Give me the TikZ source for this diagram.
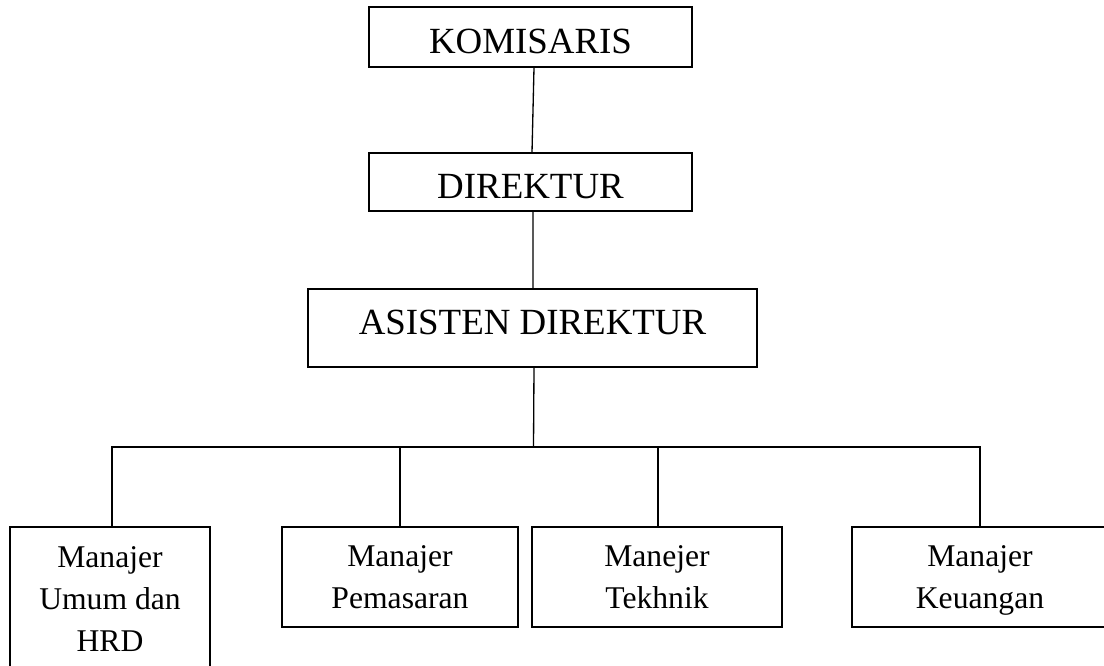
\documentclass[tikz,border=0pt]{standalone}
\usepackage{fontspec}
\setmainfont{Liberation Serif}
\usetikzlibrary{positioning, calc}
\tikzset{
  topbox/.style={
    rectangle, draw=black, line width=0.75pt, inner sep=0pt,
    align=center, font=\fontsize{21}{25}\selectfont,
    text height=0.9cm,
  },
  mgr/.style={
    rectangle, draw=black, line width=0.75pt, inner sep=0pt,
    minimum height=2cm, align=center,
    font=\fontsize{18}{23.9}\selectfont,
  },
  link/.style={
    line width=0.75pt, draw=black,
  }
}
\begin{document}
\begin{tikzpicture}

  \useasboundingbox (0,0) rectangle (22.08,-13.3);
  \clip (0,0) rectangle (22.08,-13.3);

  \node[topbox, minimum width=6.46cm, text height=0.92cm, text depth=0.28cm]
        (kom)   at (10.61,-0.74) {KOMISARIS};
  \node[topbox, minimum width=6.46cm, text depth=0.26cm]
        (dir)   at (10.61,-3.64) {DIREKTUR};
  \node[topbox, minimum width=8.98cm, text depth=0.66cm]
        (asdir) at (10.65,-6.56) {ASISTEN DIREKTUR};

  \node[mgr, minimum width=4cm, minimum height=2.9cm]
        (umum)      at (2.2,-11.99)  {Manajer\\Umum dan\\HRD};
  \node[mgr, minimum width=4.72cm] (pemasaran) at (8.0,-11.54)  {Manajer\\Pemasaran};
  \node[mgr, minimum width=5.0cm]  (tekhnik)   at (13.14,-11.54) {Manejer\\Tekhnik};
  \node[mgr, minimum width=5.12cm, text depth=0cm]
        (keuangan)  at (19.6,-11.54)  {Manajer\\Keuangan};

  \coordinate (bar) at (10.67,-8.94);

  \draw[link] ([xshift=0.07cm]kom.south) -- ([xshift=0.03cm]dir.north);
  \draw[link] ([xshift=0.05cm]dir.south) -- ([xshift=0.01cm]asdir.north);
  \draw[link] ([xshift=0.03cm]asdir.south) -- (bar);
  \draw[link] ([xshift=0.04cm]umum.north) |- (bar) -| (keuangan.north);
  \draw[link] (pemasaran.north) -- (pemasaran.north |- bar);
  \draw[link] ([xshift=0.02cm]tekhnik.north) -- ([xshift=0.02cm]tekhnik.north |- bar);

\end{tikzpicture}
\end{document}
